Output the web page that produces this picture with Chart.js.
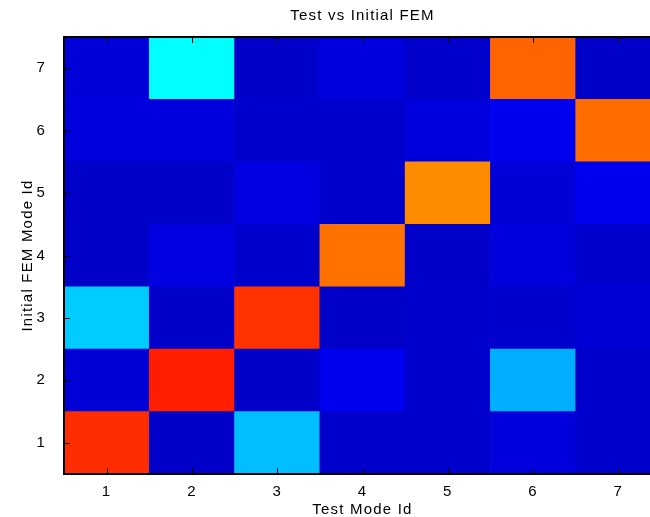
<!DOCTYPE html>
<html>
<head>
<meta charset="utf-8">
<script src="https://cdn.jsdelivr.net/npm/chart.js@4"></script>
<style>
  html, body { margin: 0; padding: 0; background: #fff; overflow: hidden; width: 650px; height: 517px; }
  canvas { display: block; }
</style>
</head>
<body>
<canvas id="myChart" width="725" height="517"></canvas>
<script>
// test mode ids (x) and initial FEM mode ids (y)
var testModes = ['1', '2', '3', '4', '5', '6', '7']
var femModes = [1, 2, 3, 4, 5, 6, 7]

// correlation level per cell, one array per FEM mode (row)
var fem1 = [0.831, 0.071, 0.311, 0.076, 0.076, 0.091, 0.076]
var fem2 = [0.086, 0.845, 0.071, 0.110, 0.076, 0.297, 0.076]
var fem3 = [0.325, 0.071, 0.826, 0.071, 0.076, 0.076, 0.086]
var fem4 = [0.071, 0.096, 0.076, 0.763, 0.071, 0.091, 0.076]
var fem5 = [0.071, 0.071, 0.096, 0.076, 0.738, 0.086, 0.110]
var fem6 = [0.091, 0.091, 0.076, 0.076, 0.091, 0.110, 0.768]
var fem7 = [0.088, 0.375, 0.071, 0.093, 0.073, 0.777, 0.071]
var rows = [fem1, fem2, fem3, fem4, fem5, fem6, fem7]

// matlab style jet colormap
function jet(v) {
    var c = function(t) {
        return Math.round(255 * Math.max(0, Math.min(1, 1.5 - Math.abs(4 * v - t))))
    }
    return 'rgb(' + c(3) + ',' + c(2) + ',' + c(1) + ')'
}

var family = '"Liberation Sans", Arial, Helvetica, sans-serif'
var font = { family: family, size: 15 }

var datasets = rows.map(function(vals, i) {
    var m = femModes[i]
    return {
        label: 'FEM ' + m,
        data: vals.map(function() { return [m - 0.5, m + 0.5] }),
        backgroundColor: vals.map(jet),
        borderWidth: 0,
        grouped: false,
        barPercentage: 1,
        categoryPercentage: 1
    }
})

// matlab text is spread out a bit
var spacingPlugin = {
    id: 'spacing',
    beforeUpdate: function(chart) { chart.ctx.letterSpacing = '1.2px' },
    beforeDraw: function(chart) { chart.ctx.letterSpacing = '1.2px' }
}

// inward ticks + axes box like matlab
var boxPlugin = {
    id: 'box',
    afterDraw: function(chart) {
        var ctx = chart.ctx
        var a = chart.chartArea
        var xs = chart.scales.x, ys = chart.scales.y
        ctx.save()
        ctx.strokeStyle = '#000'
        ctx.lineWidth = 1
        ctx.beginPath()
        xs.ticks.forEach(function(t, i) {
            var x = Math.round(xs.getPixelForTick(i)) + 0.5
            ctx.moveTo(x, a.bottom); ctx.lineTo(x, a.bottom - 6)
            ctx.moveTo(x, a.top); ctx.lineTo(x, a.top + 6)
        })
        ys.ticks.forEach(function(t, i) {
            var y = Math.round(ys.getPixelForTick(i)) + 0.5
            ctx.moveTo(a.left, y); ctx.lineTo(a.left + 6, y)
            ctx.moveTo(a.right, y); ctx.lineTo(a.right - 6, y)
        })
        ctx.stroke()
        ctx.lineWidth = 2
        ctx.strokeRect(a.left, a.top, a.right - a.left, a.bottom - a.top)
        ctx.restore()
    }
}

var chart = new Chart(document.getElementById('myChart').getContext('2d'), {
    type: 'bar',
    data: { labels: testModes, datasets: datasets },
    options: {
        responsive: false,
        animation: false,
        layout: { padding: 0 },
        plugins: {
            legend: { display: false },
            tooltip: { enabled: false },
            title: {
                display: true,
                text: 'Test vs Initial FEM',
                color: '#000',
                font: { family: family, size: 15, weight: 'normal', lineHeight: 1.2 },
                padding: { top: 6.5, bottom: 12.5 }
            }
        },
        scales: {
            x: {
                type: 'category',
                offset: true,
                grid: { display: false, drawTicks: false },
                border: { display: false },
                ticks: { color: '#000', font: font, padding: 9, maxRotation: 0 },
                title: {
                    display: true,
                    text: 'Test Mode Id',
                    color: '#000',
                    font: { family: family, size: 15, lineHeight: 1 },
                    padding: { top: 0, bottom: 0 }
                },
                afterFit: function(s) { s.height = 43 }
            },
            y: {
                type: 'linear',
                min: 0.5,
                max: 7.5,
                grid: { display: false, drawTicks: false },
                border: { display: false },
                afterBuildTicks: function(s) {
                    s.ticks = femModes.map(function(v) { return { value: v } })
                },
                ticks: { color: '#000', font: font, padding: 18 },
                title: {
                    display: true,
                    text: 'Initial FEM Mode Id',
                    color: '#000',
                    font: { family: family, size: 15, lineHeight: 1.2 },
                    padding: { top: 19, bottom: 0 }
                },
                afterFit: function(s) { s.width = 64 }
            },
            // empty right side so the title is centred over the axes
            y2: {
                type: 'linear',
                position: 'right',
                grid: { display: false, drawTicks: false },
                border: { display: false },
                ticks: { display: false },
                afterFit: function(s) { s.width = 64 }
            }
        }
    },
    plugins: [spacingPlugin, boxPlugin]
})
</script>
</body>
</html>
